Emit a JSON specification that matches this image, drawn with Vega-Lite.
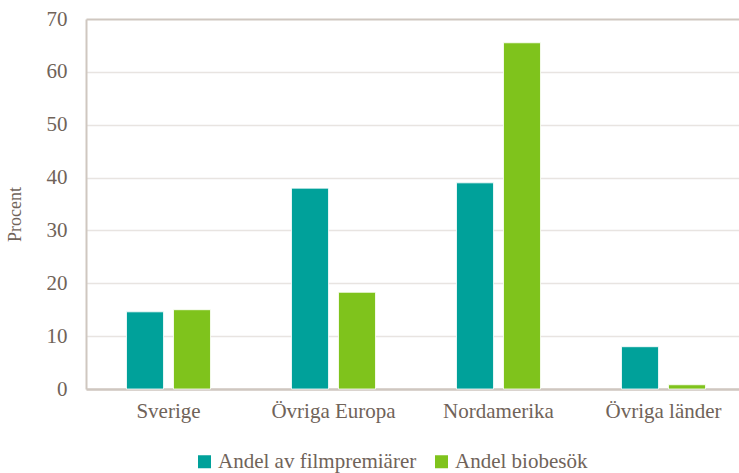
{
  "$schema": "https://vega.github.io/schema/vega-lite/v6.json",
  "width": 660,
  "height": 370,
  "autosize": {"type": "none"},
  "padding": {"left": 86, "top": 19, "right": 0, "bottom": 84},
  "background": "#ffffff",
  "config": {
    "view": {"stroke": null},
    "font": "Liberation Serif",
    "text": {"color": "#706359"}
  },
  "data": {
    "values": [
      {"region": "Sverige", "serie": "Andel av filmpremiärer", "value": 14.6},
      {"region": "Sverige", "serie": "Andel biobesök", "value": 15.0},
      {"region": "Övriga Europa", "serie": "Andel av filmpremiärer", "value": 38.0},
      {"region": "Övriga Europa", "serie": "Andel biobesök", "value": 18.3},
      {"region": "Nordamerika", "serie": "Andel av filmpremiärer", "value": 39.0},
      {"region": "Nordamerika", "serie": "Andel biobesök", "value": 65.5},
      {"region": "Övriga länder", "serie": "Andel av filmpremiärer", "value": 8.0},
      {"region": "Övriga länder", "serie": "Andel biobesök", "value": 0.8}
    ]
  },
  "mark": {"type": "bar", "stroke": "#ffffff", "strokeWidth": 0.8},
  "encoding": {
    "x": {
      "field": "region",
      "type": "nominal",
      "sort": ["Sverige", "Övriga Europa", "Nordamerika", "Övriga länder"],
      "scale": {"paddingInner": 0, "paddingOuter": 0},
      "axis": {
        "title": null,
        "labelAngle": 0,
        "labelFont": "Liberation Serif",
        "labelFontSize": 21,
        "labelColor": "#706359",
        "labelPadding": 11,
        "ticks": false,
        "domainColor": "#cfc7c0",
        "domainWidth": 2.5,
        "grid": false
      }
    },
    "xOffset": {
      "field": "serie",
      "type": "nominal",
      "scale": {"paddingInner": 0.213, "paddingOuter": 0.862}
    },
    "y": {
      "field": "value",
      "type": "quantitative",
      "scale": {"domain": [0, 70], "nice": false},
      "axis": {
        "title": "Procent",
        "titleFont": "Liberation Serif",
        "titleFontSize": 18,
        "titleFontWeight": "normal",
        "titleColor": "#706359",
        "titleAngle": -90,
        "titleBaseline": "middle",
        "titleX": -71,
        "titleY": 195,
        "values": [0, 10, 20, 30, 40, 50, 60, 70],
        "labelFont": "Liberation Serif",
        "labelFontSize": 21,
        "labelColor": "#706359",
        "labelPadding": 19,
        "ticks": false,
        "tickSize": 0,
        "domainColor": "#cfc7c0",
        "domainWidth": 2,
        "gridColor": {"condition": {"test": "datum.value === 70", "value": "#cfc7c0"}, "value": "#e8e4e1"},
        "gridWidth": {"condition": {"test": "datum.value === 70", "value": 2}, "value": 1.3}
      }
    },
    "color": {
      "field": "serie",
      "type": "nominal",
      "scale": {"domain": ["Andel av filmpremiärer", "Andel biobesök"], "range": ["#00a19a", "#7fc31c"]},
      "legend": {
        "title": null,
        "orient": "none",
        "direction": "horizontal",
        "legendX": 108,
        "legendY": 432,
        "symbolType": "square",
        "symbolSize": 169,
        "symbolStrokeWidth": 0,
        "labelFont": "Liberation Serif",
        "labelFontSize": 21,
        "labelColor": "#706359",
        "labelOffset": 3,
        "labelLimit": 0,
        "columnPadding": 14
      }
    }
  }
}
